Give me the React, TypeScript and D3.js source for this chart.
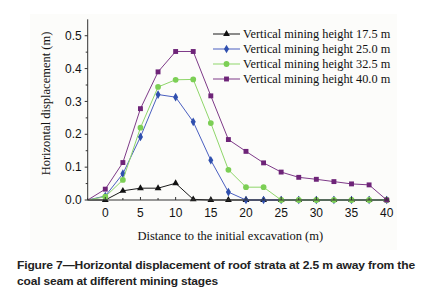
import React from "react";
import * as d3 from "d3";

const distances = [-2.5, 0, 2.5, 5, 7.5, 10, 12.5, 15, 17.5, 20, 22.5, 25, 27.5, 30, 32.5, 35, 37.5, 40];
const h175 = [0, 0, 0.028, 0.036, 0.036, 0.051, 0.002, 0, 0, 0, 0, 0, 0, 0, 0, 0, 0, 0];
const h250 = [0, 0.012, 0.08, 0.192, 0.321, 0.313, 0.238, 0.121, 0.024, 0, 0, 0, 0, 0, 0, 0, 0, 0];
const h325 = [0, 0.01, 0.061, 0.22, 0.344, 0.366, 0.367, 0.234, 0.092, 0.039, 0.039, 0, 0, 0, 0, 0, 0, 0];
const h400 = [0, 0.033, 0.114, 0.278, 0.39, 0.452, 0.452, 0.317, 0.184, 0.148, 0.113, 0.085, 0.069, 0.063, 0.056, 0.049, 0.046, 0];

const seriesNames = [
  "Vertical mining height 17.5 m",
  "Vertical mining height 25.0 m",
  "Vertical mining height 32.5 m",
  "Vertical mining height 40.0 m",
];
const xTicks = [0, 5, 10, 15, 20, 25, 30, 35, 40];
const xMinorTicks = [-2.5, 2.5, 7.5, 12.5, 17.5, 22.5, 27.5, 32.5, 37.5];
const yTicks = [0, 0.1, 0.2, 0.3, 0.4, 0.5];
const yMinorTicks = [0.05, 0.15, 0.25, 0.35, 0.45];

const xTitle = "Distance to the initial excavation (m)";
const yTitle = "Horizontal displacement (m)";
const caption1 = "Figure 7\u2014Horizontal displacement of roof strata at 2.5 m away from the";
const caption2 = "coal seam at different mining stages";

type Shape = "triangle" | "diamond" | "circle" | "square";
const styles: { line: string; fill: string; shape: Shape }[] = [
  { line: "#1a1a1a", fill: "#111111", shape: "triangle" },
  { line: "#4a5fc0", fill: "#2f4fae", shape: "diamond" },
  { line: "#8fd66a", fill: "#7ccf55", shape: "circle" },
  { line: "#7e3a88", fill: "#6e2478", shape: "square" },
];
const seriesValues = [h175, h250, h325, h400];

const serif = "'Liberation Serif', 'Times New Roman', serif";
const sans = "'Liberation Sans', Arial, sans-serif";

function Marker({ x, y, shape, fill }: { x: number; y: number; shape: Shape; fill: string }) {
  const symType =
    shape === "triangle" ? d3.symbolTriangle : shape === "diamond" ? d3.symbolDiamond : shape === "circle" ? d3.symbolCircle : d3.symbolSquare;
  const size = shape === "triangle" ? 20 : shape === "diamond" ? 22 : shape === "circle" ? 26 : 24;
  const path = d3.symbol().type(symType).size(size)() as string;
  return <path d={path} transform={`translate(${x},${y})`} fill={fill} />;
}

export default function App() {
  const x = d3.scaleLinear().domain([-2.5, 40.3]).range([87.7, 388.8]);
  const y = d3.scaleLinear().domain([0, 0.55]).range([200, 19.3]);
  const line = d3
    .line<number>()
    .x((_, i) => x(distances[i]))
    .y((v) => y(v));

  const axisColor = "#333";

  return (
    <svg width={432} height={299} style={{ position: "absolute", left: 0, top: 0 }}>
      <rect x={0} y={0} width={432} height={299} fill="#ffffff" />
      <rect x={30} y={14} width={367} height={236} fill="#fcfcfa" />

      {/* series */}
      {seriesValues.map((vals, si) => (
        <g key={si}>
          <path d={line(vals) as string} fill="none" stroke={styles[si].line} strokeWidth={1} />
          {vals.map((v, i) =>
            distances[i] < 0 ? null : (
              <Marker key={i} x={x(distances[i])} y={y(v)} shape={styles[si].shape} fill={styles[si].fill} />
            )
          )}
        </g>
      ))}

      {/* axes */}
      <line x1={x(-2.5)} x2={x(-2.5)} y1={y(0)} y2={y(0.55)} stroke={axisColor} strokeWidth={1} />
      <line x1={x(-2.5)} x2={x(40.3)} y1={y(0)} y2={y(0)} stroke={axisColor} strokeWidth={1} />
      {yTicks.map((t) => (
        <g key={t}>
          <line x1={x(-2.5) - 3} x2={x(-2.5)} y1={y(t)} y2={y(t)} stroke={axisColor} />
          <text x={x(-2.5) - 6} y={y(t)} dy="0.35em" textAnchor="end" fontFamily={sans} fontSize={12} fill="#111">
            {t.toFixed(1)}
          </text>
        </g>
      ))}
      {yMinorTicks.map((t) => (
        <line key={t} x1={x(-2.5) - 2} x2={x(-2.5)} y1={y(t)} y2={y(t)} stroke={axisColor} />
      ))}
      {xTicks.map((t) => (
        <g key={t}>
          <line x1={x(t)} x2={x(t)} y1={y(0)} y2={y(0) - 3} stroke={axisColor} />
          <text x={x(t)} y={216.5} textAnchor="middle" fontFamily={sans} fontSize={12} fill="#111">
            {t}
          </text>
        </g>
      ))}
      {xMinorTicks.map((t) => (
        <line key={t} x1={x(t)} x2={x(t)} y1={y(0)} y2={y(0) - 2} stroke={axisColor} />
      ))}

      {/* axis titles */}
      <text x={230.3} y={239.5} textAnchor="middle" fontFamily={serif} fontSize={12.5} fill="#111">
        {xTitle}
      </text>
      <text
        transform={`translate(49.5,103.5) rotate(-90)`}
        textAnchor="middle"
        fontFamily={serif}
        fontSize={12.5}
        fill="#111"
      >
        {yTitle}
      </text>

      {/* legend */}
      {seriesNames.map((name, i) => {
        const ly = 34 + i * 15;
        return (
          <g key={name}>
            <line x1={213} x2={240} y1={ly} y2={ly} stroke={styles[i].line} strokeWidth={1} />
            <Marker x={226.5} y={ly} shape={styles[i].shape} fill={styles[i].fill} />
            <text x={243} y={ly} dy="0.35em" fontFamily={serif} fontSize={12.3} fill="#111">
              {name}
            </text>
          </g>
        );
      })}

      {/* caption */}
      <text x={17} y={269} fontFamily={sans} fontWeight="bold" fontSize={11.6} letterSpacing={-0.15} fill="#222" textLength={398} lengthAdjust="spacingAndGlyphs">
        {caption1}
      </text>
      <text x={17} y={285} fontFamily={sans} fontWeight="bold" fontSize={11.6} letterSpacing={-0.15} fill="#222" textLength={201} lengthAdjust="spacingAndGlyphs">
        {caption2}
      </text>
    </svg>
  );
}
